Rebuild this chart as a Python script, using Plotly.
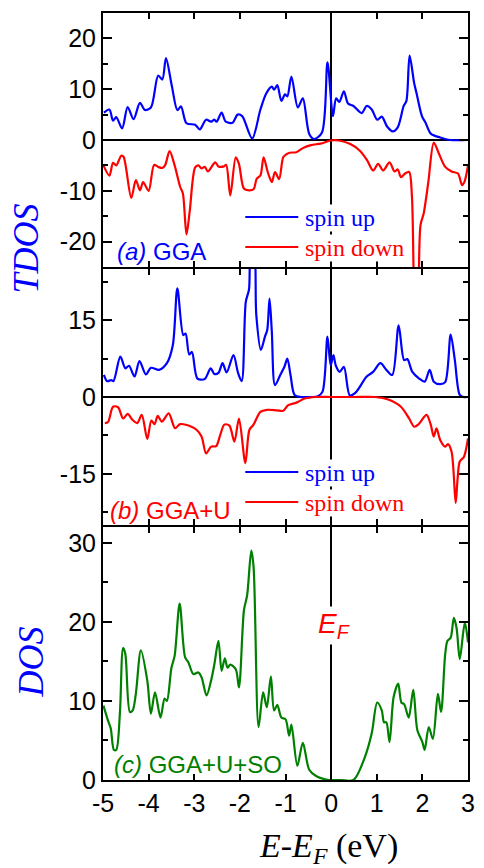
import plotly.graph_objects as go

# ---------------- data ----------------
# Panel (a) GGA, spin up
a_up_E = [-4.98, -4.86, -4.78, -4.71, -4.58, -4.46, -4.33, -4.19, -4.08, -3.95, -3.79, -3.70, -3.62,
          -3.49, -3.37, -3.29, -3.17, -2.98, -2.88, -2.74, -2.63, -2.56, -2.51, -2.40, -2.31, -2.16,
          -2.05, -1.95, -1.73, -1.55, -1.42, -1.30, -1.25, -1.18, -1.09, -1.01, -0.96, -0.87, -0.73,
          -0.62, -0.48, -0.37, -0.20, -0.08, 0.04, 0.11, 0.18, 0.28, 0.37, 0.49, 0.67, 0.78, 0.89,
          1.01, 1.11, 1.23, 1.35, 1.46, 1.59, 1.65, 1.72, 1.82, 1.87, 1.99, 2.07, 2.19, 2.39, 2.61, 3.0]
a_up = [5.4, 6.0, 3.8, 4.5, 2.3, 6.5, 4.1, 7.3, 5.9, 6.4, 12.7, 11.9, 16.1,
        10.6, 5.9, 6.6, 3.3, 3.0, 2.1, 4.0, 3.6, 4.0, 3.6, 5.4, 3.6, 3.4,
        5.0, 4.7, 0.3, 6.0, 9.2, 10.5, 9.9, 10.8, 7.7, 9.0, 8.6, 12.5, 6.4,
        8.2, 1.2, 0.2, 1.5, 15.3, 4.7, 8.2, 7.5, 9.6, 7.2, 6.7, 5.3, 6.7, 6.0,
        4.0, 4.6, 2.6, 1.7, 2.5, 6.7, 7.7, 16.6, 11.2, 9.3, 4.7, 3.4, 1.2, 0.5, 0.0, 0.0]

# Panel (a) GGA, spin down
a_dn_E = [-4.99, -4.86, -4.78, -4.71, -4.60, -4.55, -4.38, -4.28, -4.19, -4.12, -4.00, -3.88, -3.79,
          -3.70, -3.64, -3.54, -3.43, -3.31, -3.25, -3.17, -3.10, -2.98, -2.91, -2.84, -2.77, -2.70,
          -2.54, -2.47, -2.35, -2.30, -2.21, -2.09, -2.02, -1.91, -1.80, -1.70, -1.63, -1.55, -1.48,
          -1.39, -1.30, -1.23, -1.14, -1.05, -0.98, -0.91, -0.76, -0.62, -0.44, -0.23, -0.01, 0.17,
          0.42, 0.63, 0.79, 0.92, 1.03, 1.14, 1.28, 1.39, 1.46, 1.53, 1.62, 1.71, 1.77, 1.82, 1.86,
          1.91, 1.96, 2.03, 2.13, 2.25, 2.35, 2.50, 2.64, 2.78, 2.87, 2.92, 3.0]
a_dn = [-5.0, -7.0, -4.5, -5.0, -3.1, -3.3, -11.4, -7.9, -9.9, -8.3, -10.0, -4.9, -5.3,
        -5.5, -5.0, -2.2, -5.0, -9.2, -10.5, -18.6, -14.1, -5.4, -5.0, -5.6, -5.3, -6.2,
        -4.4, -5.2, -5.2, -4.9, -10.9, -3.4, -4.7, -9.6, -9.9, -9.7, -7.6, -7.0, -3.4,
        -6.3, -8.3, -6.3, -7.7, -3.4, -2.8, -2.5, -2.4, -1.6, -1.0, -0.7, -0.1, -0.1,
        -0.8, -2.1, -4.0, -6.0, -4.7, -6.0, -4.4, -6.2, -5.8, -7.3, -6.6, -6.3, -10.9, -30.0, -34.0,
        -30.0, -16.7, -14.4, -8.3, -0.5, -2.4, -5.3, -6.2, -6.6, -8.9, -8.3, -5.0]

# Panel (b) GGA+U, spin up
b_up_E = [-4.98, -4.91, -4.82, -4.77, -4.62, -4.51, -4.43, -4.31, -4.20, -4.06, -3.95, -3.77, -3.60,
          -3.47, -3.37, -3.24, -3.19, -3.11, -3.05, -2.93, -2.77, -2.64, -2.56, -2.47, -2.38, -2.29,
          -2.14, -2.04, -1.96, -1.87, -1.80, -1.75, -1.70, -1.64, -1.54, -1.45, -1.40, -1.35, -1.30,
          -1.23, -1.12, -1.02, -0.96, -0.89, -0.80, -0.66, -0.45, -0.30, -0.19, -0.08, -0.01, 0.05,
          0.10, 0.19, 0.28, 0.41, 0.53, 0.78, 0.92, 1.08, 1.21, 1.34, 1.48, 1.60, 1.67, 1.78, 1.93,
          2.05, 2.16, 2.25, 2.39, 2.50, 2.62, 2.71, 2.82, 2.90, 3.0]
b_up = [4.3, 3.1, 3.3, 3.1, 7.9, 5.6, 6.1, 4.0, 7.0, 4.4, 5.7, 5.3, 6.6,
        10.1, 21.2, 12.1, 12.4, 8.3, 8.8, 3.6, 3.5, 5.6, 4.5, 4.7, 6.6, 4.8,
        8.2, 4.7, 3.1, 18.6, 21.0, 30.0, 30.0, 16.0, 9.2, 11.8, 13.1, 19.2, 12.8,
        2.3, 4.2, 6.0, 7.5, 4.3, 0.4, 0.0, 0.0, 0.1, 1.0, 11.8, 6.2, 8.2,
        6.2, 4.9, 5.9, 0.3, 0.8, 4.0, 4.9, 6.6, 5.3, 4.3, 14.0, 7.2, 7.4, 4.9, 3.6,
        3.0, 5.3, 3.0, 2.5, 2.9, 12.2, 7.3, 0.4, 0.0, 0.0]

# Panel (b) GGA+U, spin down
b_dn_E = [-4.96, -4.89, -4.78, -4.67, -4.56, -4.46, -4.35, -4.25, -4.15, -4.03, -3.94, -3.87, -3.80,
          -3.71, -3.56, -3.42, -3.31, -3.06, -2.95, -2.84, -2.74, -2.63, -2.52, -2.43, -2.34, -2.23,
          -2.12, -2.02, -1.88, -1.79, -1.70, -1.55, -1.40, -1.19, -1.05, -0.94, -0.76, -0.58, -0.33,
          0.0, 0.5, 0.96, 1.25, 1.53, 1.71, 1.82, 1.92, 2.09, 2.18, 2.25, 2.31, 2.39, 2.50, 2.56,
          2.64, 2.73, 2.77, 2.82, 2.91, 3.0]
b_dn = [-5.1, -4.9, -1.9, -2.0, -4.2, -3.3, -4.5, -5.1, -3.5, -8.2, -4.6, -5.3, -3.7,
        -4.8, -3.2, -6.1, -5.3, -5.8, -6.4, -7.7, -11.0, -9.7, -9.6, -7.4, -5.4, -5.6,
        -8.7, -4.2, -12.9, -6.4, -5.4, -2.9, -2.5, -2.6, -2.7, -1.6, -1.1, -0.3, 0.0,
        0.0, 0.0, 0.0, -0.5, -1.9, -4.2, -5.8, -5.3, -3.5, -5.3, -7.7, -6.1, -8.4, -9.7, -9.2,
        -10.7, -20.7, -16.2, -12.6, -11.7, -8.1]

# Panel (c) GGA+U+SO, total DOS
c_E = [-4.99, -4.89, -4.83, -4.76, -4.71, -4.63, -4.56, -4.51, -4.41, -4.35, -4.28, -4.17, -4.03,
       -3.95, -3.86, -3.74, -3.65, -3.60, -3.50, -3.43, -3.32, -3.20, -3.13, -3.02, -2.91, -2.84,
       -2.73, -2.63, -2.56, -2.47, -2.40, -2.33, -2.27, -2.21, -2.09, -2.02, -1.91, -1.84, -1.75,
       -1.70, -1.59, -1.49, -1.41, -1.32, -1.25, -1.18, -1.09, -1.00, -0.92, -0.87, -0.74, -0.62,
       -0.48, -0.33, -0.05, 0.2, 0.49, 0.74, 0.89, 1.01, 1.11, 1.16, 1.21, 1.28, 1.37, 1.47, 1.54,
       1.60, 1.70, 1.80, 1.89, 2.00, 2.05, 2.14, 2.23, 2.34, 2.41, 2.50, 2.55, 2.62, 2.69, 2.75,
       2.82, 2.93, 3.0]
c_dos = [9.4, 7.5, 6.5, 3.8, 3.8, 8.4, 16.7, 15.9, 8.6, 8.8, 10.9, 16.4, 12.6,
         8.4, 11.1, 7.9, 10.3, 10.0, 14.2, 15.7, 22.3, 15.5, 14.9, 13.4, 13.6, 13.0,
         10.7, 12.6, 14.6, 17.6, 13.8, 15.4, 14.2, 14.6, 14.0, 11.7, 21.5, 23.4, 29.0,
         27.0, 6.7, 11.1, 9.2, 13.1, 8.8, 9.5, 7.9, 7.7, 5.6, 7.0, 1.8, 4.7,
         1.3, 0.5, 0.0, 0.0, 0.0, 2.9, 5.9, 9.8, 8.8, 7.3, 7.3, 4.8, 10.5, 12.2, 9.8,
         9.6, 7.9, 11.4, 6.3, 4.8, 3.8, 6.7, 5.2, 10.9, 8.6, 15.9, 17.6, 18.0, 20.5, 19.2,
         15.3, 19.9, 17.4]

# Tick values / labels
x_ticks = [-5, -4, -3, -2, -1, 0, 1, 2, 3]
x_ticktext = ["-5", "-4", "-3", "-2", "-1", "0", "1", "2", "3"]
ya_ticks = [-20, -10, 0, 10, 20]
ya_ticktext = ["-20", "-10", "0", "10", "20"]
ya_minor = [-25, -15, -5, 5, 15, 25]
yb_ticks = [-15, 0, 15]
yb_ticktext = ["-15", "0", "15"]
yb_minor = [-22.5, -7.5, 7.5, 22.5]
yc_ticks = [0, 10, 20, 30]
yc_ticktext = ["0", "10", "20", "30"]
yc_minor = [5, 15, 25]

legend_labels = ["spin up", "spin down"]

BLUE = "#0000ff"
RED = "#ff0000"
GREEN = "#008000"
SANS = "Liberation Sans, Arial, sans-serif"
SERIF = "Liberation Serif, Times New Roman, serif"

fig = go.Figure()

line_kw = dict(shape="spline", smoothing=0.85, width=2.2)

fig.add_trace(go.Scatter(x=a_up_E, y=a_up, mode="lines", xaxis="x", yaxis="y",
                         line=dict(color=BLUE, **line_kw), showlegend=False, name="spin up (a)"))
fig.add_trace(go.Scatter(x=a_dn_E, y=a_dn, mode="lines", xaxis="x", yaxis="y",
                         line=dict(color=RED, **line_kw), showlegend=False, name="spin down (a)"))
fig.add_trace(go.Scatter(x=b_up_E, y=b_up, mode="lines", xaxis="x2", yaxis="y2",
                         line=dict(color=BLUE, **line_kw), showlegend=False, name="spin up (b)"))
fig.add_trace(go.Scatter(x=b_dn_E, y=b_dn, mode="lines", xaxis="x2", yaxis="y2",
                         line=dict(color=RED, **line_kw), showlegend=False, name="spin down (b)"))
fig.add_trace(go.Scatter(x=c_E, y=c_dos, mode="lines", xaxis="x3", yaxis="y3",
                         line=dict(color=GREEN, **line_kw), showlegend=False, name="DOS"))

# domains (plot area 13..780 px); 2 px gaps so the outward-drawn frame lines coincide
H = 767.0
dom_a = [(780 - 267) / H, 1.0]
dom_b = [(780 - 525) / H, (780 - 269) / H]
dom_c = [0.0, (780 - 527) / H]

axis_common = dict(showline=True, linecolor="black", linewidth=2, mirror="ticks",
                   ticks="inside", tickcolor="black", tickwidth=1.5, showgrid=False,
                   tickfont=dict(family=SANS, size=25, color="black"))

xcommon = dict(axis_common, range=[-5, 3], tickmode="array", tickvals=x_ticks,
               ticktext=x_ticktext, ticklen=6, zeroline=True, zerolinecolor="black",
               zerolinewidth=2)

fig.update_layout(
    xaxis=dict(xcommon, anchor="y", showticklabels=False, domain=[0, 1]),
    xaxis2=dict(xcommon, anchor="y2", showticklabels=False, domain=[0, 1]),
    xaxis3=dict(xcommon, anchor="y3", showticklabels=True, domain=[0, 1]),
    yaxis=dict(axis_common, domain=dom_a, anchor="x", range=[-25, 25], tickmode="array",
               tickvals=ya_ticks, ticktext=ya_ticktext, ticklen=9,
               zeroline=True, zerolinecolor="black", zerolinewidth=2,
               minor=dict(tickmode="array", tickvals=ya_minor, ticks="inside", ticklen=5,
                          tickcolor="black", tickwidth=1.5, showgrid=False)),
    yaxis2=dict(axis_common, domain=dom_b, anchor="x2", range=[-25, 25], tickmode="array",
                tickvals=yb_ticks, ticktext=yb_ticktext, ticklen=9,
                zeroline=True, zerolinecolor="black", zerolinewidth=2,
                minor=dict(tickmode="array", tickvals=yb_minor, ticks="inside", ticklen=5,
                           tickcolor="black", tickwidth=1.5, showgrid=False)),
    yaxis3=dict(axis_common, domain=dom_c, anchor="x3", range=[0, 32], tickmode="array",
                tickvals=yc_ticks, ticktext=yc_ticktext, ticklen=9, zeroline=False,
                minor=dict(tickmode="array", tickvals=yc_minor, ticks="inside", ticklen=5,
                           tickcolor="black", tickwidth=1.5, showgrid=False)),
    width=484, height=868, autosize=False,
    margin=dict(l=103, r=9, t=13, b=88),
    plot_bgcolor="white", paper_bgcolor="white",
    showlegend=False,
)

def px_x(p):
    return (p - 103) / 372.0

def px_y(p):
    return (780 - p) / H

shapes = []
annotations = []
# hand-drawn legends for panels (a) and (b)
for row_y in ([217, 247], [472, 502]):
    for yy, col, lab in zip(row_y, [BLUE, RED], legend_labels):
        shapes.append(dict(type="line", xref="paper", yref="paper",
                           x0=px_x(248), x1=px_x(302), y0=px_y(yy), y1=px_y(yy),
                           line=dict(color=col, width=2.2)))
        annotations.append(dict(text=lab, x=px_x(308), y=px_y(yy + 1), xref="paper",
                                yref="paper", xanchor="left", yanchor="middle",
                                showarrow=False, bgcolor="white", borderpad=0,
                                font=dict(family=SERIF, size=24, color=col)))

annotations += [
    dict(text="<i>(a)</i> GGA", x=0.032, y=0.6884, xref="paper", yref="paper",
         xanchor="left", yanchor="middle", showarrow=False,
         font=dict(family=SANS, size=24, color=BLUE)),
    dict(text="<i>(b)</i> GGA+U", x=0.0134, y=0.352, xref="paper", yref="paper",
         xanchor="left", yanchor="middle", showarrow=False,
         font=dict(family=SANS, size=24, color=RED)),
    dict(text="<i>(c)</i> GGA+U+SO", x=0.024, y=0.0196, xref="paper", yref="paper",
         xanchor="left", yanchor="middle", showarrow=False,
         font=dict(family=SANS, size=24, color=GREEN)),
    dict(text="<i>E<sub>F</sub></i>", x=0.634, y=0.202, xref="paper", yref="paper",
         xanchor="center", yanchor="middle", showarrow=False, bgcolor="white",
         font=dict(family=SANS, size=28, color=RED)),
    dict(text="<i>TDOS</i>", x=-0.2097, y=0.6936, xref="paper", yref="paper",
         xanchor="center", yanchor="middle", showarrow=False, textangle=-90,
         font=dict(family=SERIF, size=36, color=BLUE)),
    dict(text="<i>DOS</i>", x=-0.196, y=0.1538, xref="paper", yref="paper",
         xanchor="center", yanchor="middle", showarrow=False, textangle=-90,
         font=dict(family=SERIF, size=36, color=BLUE)),
    dict(text="<i>E</i>-<i>E<sub>F</sub></i> (eV)", x=0.618, y=-0.0887, xref="paper",
         yref="paper", xanchor="center", yanchor="middle", showarrow=False,
         font=dict(family=SERIF, size=34, color="black")),
]
fig.update_layout(annotations=annotations, shapes=shapes)

fig.write_html("out.html")
